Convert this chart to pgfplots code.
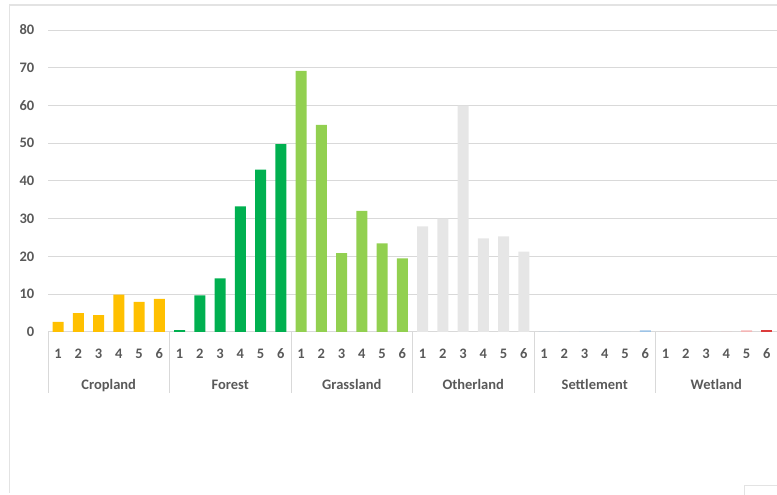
\documentclass[border=0pt]{standalone}
\usepackage{pgfplots}
\pgfplotsset{compat=1.18}
\usepackage{fontspec}
\setmainfont{Carlito}
\definecolor{gridgray}{HTML}{D9D9D9}
\definecolor{framegray}{HTML}{E3E3E3}
\definecolor{labelgray}{HTML}{595959}
\definecolor{crop}{HTML}{FFC000}
\definecolor{forest}{HTML}{00B050}
\definecolor{grass}{HTML}{92D050}
\definecolor{other}{HTML}{E6E6E6}
\definecolor{settle}{HTML}{9DC3E6}
\definecolor{wetlight}{HTML}{F4B6B6}
\definecolor{wetdark}{HTML}{DC3C3C}

\begin{document}
\begin{tikzpicture}[
    catname/.style={anchor=base, inner sep=0pt, text=labelgray,
      font=\fontsize{14.5}{16}\selectfont\bfseries},
    sep/.style={gridgray, line width=1pt}]
  \useasboundingbox (0pt,0pt) rectangle (777pt,495pt);
  % chart frame
  \draw[framegray, line width=1.2pt] (9.5pt,2pt) -- (9.5pt,490pt) -- (780pt,490pt);
  \draw[framegray, line width=1pt] (744pt,-2pt) -- (744pt,9pt) -- (780pt,9pt);

  \begin{axis}[
      at={(48pt,163pt)}, anchor=south west,
      scale only axis, width=729pt, height=302pt,
      ybar, bar width=0.54, /pgf/bar shift=0pt,
      xmin=-0.5, xmax=35.5,
      ymin=0, ymax=80,
      ytick={0,10,...,80},
      xtick={0,...,35},
      xticklabels={1,2,3,4,5,6,1,2,3,4,5,6,1,2,3,4,5,6,1,2,3,4,5,6,1,2,3,4,5,6,1,2,3,4,5,6},
      /pgf/number format/assume math mode=true,
      major tick length=0pt,
      ymajorgrids,
      major grid style={draw=gridgray, line width=1pt},
      axis lines*=left,
      y axis line style={draw=none},
      x axis line style={draw=gridgray, line width=1pt},
      ticklabel style={font=\fontsize{14.5}{16}\selectfont\bfseries, text=labelgray, inner sep=0pt},
      yticklabel style={anchor=east, xshift=-13.5pt},
      xticklabel style={anchor=north, yshift=-16.5pt},
      clip=false,
    ]
    % Cropland
    \addplot[draw=none, fill=crop] coordinates {
      (0,2.7) (1,5.0) (2,4.5) (3,9.9) (4,8.0) (5,8.8)};
    % Forest
    \addplot[draw=none, fill=forest] coordinates {
      (6,0.5) (7,9.7) (8,14.2) (9,33.3) (10,43.0) (11,49.8)};
    % Grassland
    \addplot[draw=none, fill=grass] coordinates {
      (12,69.2) (13,54.9) (14,20.9) (15,32.1) (16,23.5) (17,19.5)};
    % Otherland
    \addplot[draw=none, fill=other] coordinates {
      (18,28.0) (19,30.0) (20,60.0) (21,24.8) (22,25.3) (23,21.3)};
    % Settlement
    \addplot[draw=none, fill=settle] coordinates {
      (24,0) (25,0) (26,0) (27,0) (28,0) (29,0.4)};
    % Wetland
    \addplot[draw=none, fill=wetlight] coordinates {
      (30,0) (31,0) (32,0) (33,0) (34,0.4)};
    \addplot[draw=none, fill=wetdark] coordinates {
      (35,0.5)};

    % category separators
    \draw[sep] (axis cs:-0.5,0) -- ([yshift=-61pt]axis cs:-0.5,0);
    \draw[sep] (axis cs:5.5,0) -- ([yshift=-61pt]axis cs:5.5,0);
    \draw[sep] (axis cs:11.5,0) -- ([yshift=-61pt]axis cs:11.5,0);
    \draw[sep] (axis cs:17.5,0) -- ([yshift=-61pt]axis cs:17.5,0);
    \draw[sep] (axis cs:23.5,0) -- ([yshift=-61pt]axis cs:23.5,0);
    \draw[sep] (axis cs:29.5,0) -- ([yshift=-61pt]axis cs:29.5,0);
    % category names
    \node[catname] at ([yshift=-57.5pt]axis cs:2.5,0) {Cropland};
    \node[catname] at ([yshift=-57.5pt]axis cs:8.5,0) {Forest};
    \node[catname] at ([yshift=-57.5pt]axis cs:14.5,0) {Grassland};
    \node[catname] at ([yshift=-57.5pt]axis cs:20.5,0) {Otherland};
    \node[catname] at ([yshift=-57.5pt]axis cs:26.5,0) {Settlement};
    \node[catname] at ([yshift=-57.5pt]axis cs:32.5,0) {Wetland};
  \end{axis}
\end{tikzpicture}
\end{document}
